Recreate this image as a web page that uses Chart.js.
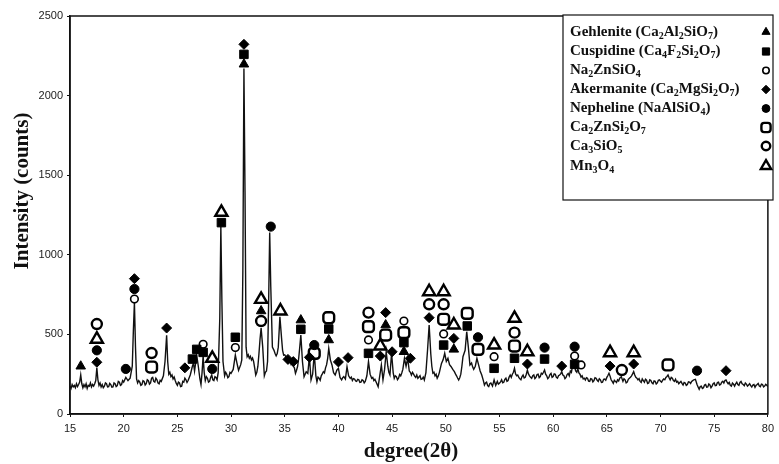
<!DOCTYPE html>
<html>
<head>
<meta charset="utf-8">
<script src="https://cdn.jsdelivr.net/npm/chart.js@4.4.0/dist/chart.umd.min.js"></script>
<style>
  html, body { margin: 0; padding: 0; background: #fff; }
  #wrap { width: 779px; height: 464px; }
</style>
</head>
<body>
<div id="wrap"><canvas id="xrd"></canvas></div>
<script>
// measured pattern: [2theta, counts]
const pattern = [
  [15.0,175],[15.1,160],[15.2,185],[15.3,170],[15.4,180],[15.5,165],[15.6,190],[15.7,172],[15.8,185],[15.9,200],
  [16.0,245],[16.1,190],[16.2,165],[16.3,185],[16.4,170],[16.5,190],[16.6,160],[16.7,180],[16.8,175],[16.9,195],
  [17.0,170],[17.1,185],[17.2,175],[17.3,190],[17.4,210],[17.5,290],[17.6,215],[17.7,180],[17.8,195],[17.9,170],
  [18.0,185],[18.1,165],[18.2,175],[18.3,195],[18.4,190],[18.5,170],[18.6,172],[18.7,192],[18.8,185],[18.9,168],
  [19.0,170],[19.1,195],[19.2,190],[19.3,172],[19.4,178],[19.5,205],[19.6,200],[19.7,180],[19.8,185],[19.9,210],
  [20.0,200],[20.2,230],[20.4,210],[20.6,225],[20.8,300],[20.9,520],[21.0,700],[21.1,420],[21.2,220],[21.3,195],
  [21.4,210],[21.5,200],[21.6,180],[21.7,185],[21.8,210],[21.9,205],[22.0,182],[22.1,190],[22.2,215],[22.3,210],
  [22.4,188],[22.5,195],[22.6,225],[22.7,230],[22.8,205],[22.9,200],[23.0,225],[23.1,215],[23.2,195],[23.3,190],
  [23.4,212],[23.5,205],[23.7,240],[23.85,330],[24.0,495],[24.1,330],[24.2,250],[24.3,262],[24.4,235],[24.5,245],
  [24.6,220],[24.7,232],[24.8,210],[24.9,192],[25.0,180],[25.1,200],[25.2,195],[25.3,172],[25.4,175],[25.5,205],
  [25.6,200],[25.7,225],[25.8,215],[25.9,198],[26.0,210],[26.2,245],[26.4,300],[26.5,320],[26.6,270],[26.8,370],
  [26.95,300],[27.1,220],[27.2,185],[27.3,260],[27.4,365],[27.5,260],[27.6,210],[27.7,235],[27.8,225],[27.9,200],
  [28.0,205],[28.1,230],[28.2,245],[28.3,215],[28.4,210],[28.5,235],[28.6,230],[28.7,215],[28.8,260],[28.95,600],
  [29.05,1180],[29.15,700],[29.25,330],[29.4,240],[29.5,262],[29.6,250],[29.7,228],[29.8,235],[29.9,262],[30.0,255],
  [30.2,280],[30.4,370],[30.55,320],[30.7,275],[30.9,310],[31.0,340],[31.1,900],[31.2,2170],[31.3,1400],
  [31.4,420],[31.5,360],[31.6,372],[31.7,350],[31.8,362],[31.9,340],[32.0,352],[32.1,330],[32.2,290],[32.3,245],
  [32.4,262],[32.5,300],[32.6,380],[32.7,470],[32.8,540],[32.95,420],[33.1,240],[33.2,262],[33.3,270],[33.4,330],
  [33.5,700],[33.6,1140],[33.7,800],[33.85,420],[34.0,400],[34.1,380],[34.2,365],[34.3,380],[34.4,420],[34.55,610],
  [34.7,480],[34.8,400],[34.9,370],[35.0,372],[35.1,360],[35.2,342],[35.3,330],[35.4,350],[35.5,345],[35.6,312],
  [35.7,320],[35.8,300],[35.9,290],[36.0,256],[36.1,275],[36.2,300],[36.3,350],[36.4,420],[36.5,496],[36.65,330],
  [36.8,234],[36.9,250],[37.0,266],[37.15,255],[37.3,360],[37.45,214],[37.6,250],[37.75,381],[37.9,240],
  [38.0,203],[38.1,232],[38.2,225],[38.3,212],[38.4,240],[38.5,252],[38.6,266],[38.7,258],[38.8,290],[38.9,310],
  [39.0,350],[39.1,412],[39.25,340],[39.4,308],[39.55,260],[39.7,245],[39.85,275],[40.0,287],[40.15,230],
  [40.3,214],[40.4,228],[40.5,235],[40.65,220],[40.8,297],[40.95,240],[41.1,224],[41.2,232],[41.3,210],[41.4,222],
  [41.5,220],[41.6,208],[41.7,205],[41.8,218],[41.9,215],[42.0,198],[42.1,200],[42.2,215],[42.3,210],[42.4,196],
  [42.5,205],[42.65,240],[42.8,329],[42.95,250],[43.1,224],[43.2,230],[43.3,210],[43.4,218],[43.5,203],[43.7,172],
  [43.85,240],[44.0,308],[44.15,214],[44.3,280],[44.45,391],[44.6,300],[44.7,262],[44.8,245],[44.95,383],[45.1,260],
  [45.2,224],[45.3,240],[45.4,235],[45.5,215],[45.6,225],[45.7,248],[45.8,240],[45.9,258],[46.0,280],[46.15,350],
  [46.3,300],[46.45,350],[46.6,270],[46.7,262],[46.8,245],[46.9,262],[47.0,250],[47.1,238],[47.2,230],[47.3,245],
  [47.4,224],[47.5,232],[47.6,240],[47.7,218],[47.8,220],[47.9,232],[48.0,214],[48.15,260],[48.3,400],[48.45,559],
  [48.6,380],[48.7,300],[48.8,256],[48.9,262],[49.0,240],[49.1,250],[49.2,224],[49.3,238],[49.4,260],[49.5,290],
  [49.6,318],[49.75,340],[49.9,381],[50.05,330],[50.2,350],[50.35,310],[50.5,297],[50.65,280],[50.8,266],
  [50.9,252],[51.0,240],[51.1,226],[51.2,214],[51.3,228],[51.4,250],[51.5,300],[51.6,360],[51.8,400],[51.95,517],
  [52.1,420],[52.25,308],[52.4,320],[52.5,296],[52.6,280],[52.75,300],[52.9,350],[53.05,310],[53.2,270],
  [53.35,245],[53.5,210],[53.6,182],[53.7,195],[53.8,200],[53.9,178],[54.0,172],[54.1,190],[54.2,195],[54.35,175],
  [54.5,214],[54.65,180],[54.8,205],[54.9,188],[55.0,193],[55.1,202],[55.2,215],[55.3,196],[55.4,200],[55.5,218],
  [55.6,225],[55.7,205],[55.8,210],[55.9,232],[56.0,245],[56.1,230],[56.2,250],[56.3,262],[56.4,287],[56.5,252],
  [56.6,240],[56.7,245],[56.8,230],[56.9,222],[57.0,215],[57.1,235],[57.2,245],[57.3,226],[57.4,230],[57.5,250],
  [57.6,276],[57.7,252],[57.8,240],[57.9,230],[58.0,224],[58.1,240],[58.2,245],[58.3,222],[58.4,230],[58.5,248],
  [58.6,250],[58.7,228],[58.8,235],[58.9,256],[59.0,250],[59.1,262],[59.2,276],[59.3,250],[59.4,240],[59.5,222],
  [59.6,230],[59.7,248],[59.8,255],[59.9,230],[60.0,235],[60.1,252],[60.2,250],[60.3,230],[60.4,225],[60.5,240],
  [60.6,245],[60.7,252],[60.8,266],[60.9,245],[61.0,240],[61.1,222],[61.2,230],[61.3,248],[61.4,255],[61.5,240],
  [61.6,270],[61.7,262],[61.8,300],[61.95,308],[62.1,270],[62.2,262],[62.3,285],[62.4,258],[62.5,250],[62.6,232],
  [62.7,240],[62.8,220],[62.9,225],[63.0,214],[63.1,228],[63.2,225],[63.3,206],[63.4,205],[63.5,222],[63.6,220],
  [63.7,202],[63.8,210],[63.9,228],[64.0,225],[64.1,212],[64.2,205],[64.3,222],[64.4,215],[64.5,198],[64.6,200],
  [64.7,218],[64.8,220],[64.9,212],[65.0,230],[65.1,242],[65.2,256],[65.3,238],[65.4,215],[65.5,205],[65.6,193],
  [65.7,212],[65.8,205],[65.9,198],[66.0,215],[66.1,208],[66.2,225],[66.35,234],[66.5,205],[66.6,222],[66.7,215],
  [66.8,195],[66.9,200],[67.0,218],[67.1,225],[67.2,230],[67.3,240],[67.4,252],[67.5,266],[67.6,245],[67.7,230],
  [67.8,225],[67.9,214],[68.0,222],[68.1,205],[68.2,198],[68.3,220],[68.4,210],[68.5,200],[68.6,218],[68.7,212],
  [68.8,192],[68.9,195],[69.0,215],[69.1,210],[69.2,196],[69.3,190],[69.4,208],[69.5,205],[69.6,188],[69.7,195],
  [69.8,212],[69.9,215],[70.0,205],[70.1,200],[70.2,212],[70.3,220],[70.4,215],[70.5,230],[70.6,236],[70.7,245],
  [70.8,228],[70.9,215],[71.0,230],[71.1,225],[71.2,210],[71.3,205],[71.4,218],[71.5,200],[71.6,205],[71.7,190],
  [71.8,198],[71.9,205],[72.0,192],[72.1,182],[72.2,198],[72.3,195],[72.4,180],[72.5,185],[72.6,202],[72.7,200],
  [72.8,192],[72.9,205],[73.0,210],[73.1,215],[73.25,218],[73.4,185],[73.5,170],[73.6,155],[73.7,172],[73.8,175],
  [73.9,160],[74.0,165],[74.1,182],[74.2,185],[74.3,168],[74.4,170],[74.5,188],[74.6,182],[74.7,165],[74.8,175],
  [74.9,190],[75.0,195],[75.1,178],[75.2,180],[75.3,198],[75.4,200],[75.5,182],[75.6,185],[75.7,200],[75.8,205],
  [75.9,195],[76.0,210],[76.1,214],[76.2,200],[76.3,190],[76.4,198],[76.5,180],[76.6,175],[76.7,195],[76.8,188],
  [76.9,175],[77.0,190],[77.1,200],[77.2,185],[77.3,180],[77.4,198],[77.5,205],[77.6,190],[77.7,185],[77.8,178],
  [77.9,195],[78.0,188],[78.1,175],[78.2,182],[78.3,190],[78.4,178],[78.5,170],[78.6,182],[78.7,185],[78.8,168],
  [78.9,180],[79.0,185],[79.1,192],[79.2,176],[79.3,172],[79.4,188],[79.5,185],[79.6,170],[79.7,175],[79.8,186],
  [79.9,180],[80.0,172]
];

// phase markers: [2theta, height where the symbol sits]
const gehlenite = [[16.0,300],[31.2,2197],[32.8,647],[36.5,590],[39.1,465],[44.4,559],[46.1,391],[50.75,406]];
const cuspidine = [[26.4,345],[26.8,406],[27.4,387],[29.1,1202],[30.4,482],[31.2,2259],[36.5,532],[39.1,534],
  [42.8,381],[46.1,448],[49.8,433],[52.0,553],[54.5,287],[56.4,350],[59.2,345],[62.0,312]];
const na2znsio4 = [[21.0,722],[27.4,438],[30.4,417],[42.8,465],[46.1,584],[49.8,503],[54.5,360],[62.0,364],[62.6,308]];
const akermanite = [[17.5,325],[21.0,850],[24.0,540],[25.7,290],[31.2,2322],[35.3,343],[35.8,329],[37.3,356],
  [40.0,327],[40.9,354],[43.9,364],[44.4,637],[45.0,391],[46.7,350],[48.45,605],[50.75,475],[57.6,314],[60.8,301],
  [65.3,301],[67.5,314],[76.1,272]];
const nepheline = [[17.5,400],[20.2,283],[21.0,785],[28.25,283],[33.7,1177],[37.75,433],[53.0,482],[59.2,417],[62.0,423],[73.4,272]];
const ca2znsi2o7 = [[22.6,295],[37.75,381],[39.1,605],[42.8,549],[44.4,496],[46.1,511],[49.8,595],[52.0,632],[53.0,406],[56.4,427],[70.7,308]];
const ca3sio5 = [[17.5,565],[22.6,383],[32.8,584],[42.8,637],[48.45,689],[49.8,689],[56.4,511],[66.4,276]];
const mn3o4 = [[17.5,470],[28.25,350],[29.1,1267],[32.8,720],[34.6,647],[43.9,427],[48.45,768],[49.8,768],
  [50.75,559],[54.5,433],[56.4,601],[57.6,391],[65.3,385],[67.5,385]];

const xTicks = [15, 20, 25, 30, 35, 40, 45, 50, 55, 60, 65, 70, 75, 80];
const yTicks = [0, 500, 1000, 1500, 2000, 2500];

// legend labels, "_n" = subscript
const phaseNames = [
  "Gehlenite (Ca_2Al_2SiO_7)",
  "Cuspidine (Ca_4F_2Si_2O_7)",
  "Na_2ZnSiO_4",
  "Akermanite (Ca_2MgSi_2O_7)",
  "Nepheline (NaAlSiO_4)",
  "Ca_2ZnSi_2O_7",
  "Ca_3SiO_5",
  "Mn_3O_4"
];

const xTitle = "degree(2θ)";
const yTitle = "Intensity (counts)";
const serif = "'Liberation Serif', 'Times New Roman', serif";

const toXY = arr => arr.map(p => ({ x: p[0], y: p[1] }));

function phase(label, arr, style, filled, radius, bw) {
  return {
    type: "scatter",
    label: label,
    data: toXY(arr),
    pointStyle: style,
    pointRadius: radius,
    pointBorderWidth: bw,
    pointBackgroundColor: filled ? "#000" : "#fff",
    pointBorderColor: "#000",
    showLine: false,
    order: 0,
  };
}

const markerSets = [
  phase(phaseNames[0], gehlenite, "triangle", true, 5.5, 1),
  phase(phaseNames[1], cuspidine, "rect", true, 6, 1),
  phase(phaseNames[2], na2znsio4, "circle", false, 3.8, 1.6),
  phase(phaseNames[3], akermanite, "rectRot", true, 5, 1),
  phase(phaseNames[4], nepheline, "circle", true, 4.6, 1),
  phase(phaseNames[5], ca2znsi2o7, "rectRounded", false, 6.3, 2.4),
  phase(phaseNames[6], ca3sio5, "circle", false, 5, 2.4),
  phase(phaseNames[7], mn3o4, "triangle", false, 7, 2.4),
];

function drawSubText(ctx, str, x, y) {
  const parts = str.split(/(_\d)/);
  let cx = x;
  parts.forEach(p => {
    if (!p) return;
    if (p[0] === "_") {
      ctx.font = "bold 10px " + serif;
      ctx.fillText(p.slice(1), cx, y + 4);
      cx += ctx.measureText(p.slice(1)).width;
    } else {
      ctx.font = "bold 15px " + serif;
      ctx.fillText(p, cx, y);
      cx += ctx.measureText(p).width;
    }
  });
}

const framePlugin = {
  id: "frame",
  beforeDatasetsDraw(chart) {
    const { ctx, chartArea: a } = chart;
    ctx.save();
    ctx.strokeStyle = "#111";
    ctx.lineWidth = 1.5;
    ctx.strokeRect(a.left, a.top, a.right - a.left, a.bottom - a.top);
    // axis titles
    ctx.fillStyle = "#111";
    ctx.font = "bold 21px " + serif;
    ctx.textAlign = "center";
    ctx.textBaseline = "middle";
    ctx.fillText(xTitle, 411, 452);
    ctx.translate(23, 191);
    ctx.rotate(-Math.PI / 2);
    ctx.fillText(yTitle, 0, 0);
    ctx.restore();
  },
};

const phaseLegend = {
  id: "phaseLegend",
  afterDraw(chart) {
    const { ctx } = chart;
    const left = 563, top = 15, w = 210, h = 185;
    const rows = [32, 51.5, 70.5, 89.5, 108.5, 127.5, 146, 166];
    ctx.save();
    ctx.fillStyle = "#fff";
    ctx.fillRect(left, top, w, h);
    ctx.strokeStyle = "#111";
    ctx.lineWidth = 1.2;
    ctx.strokeRect(left, top, w, h);
    ctx.textBaseline = "middle";
    ctx.textAlign = "left";
    markerSets.forEach((ds, i) => {
      ctx.fillStyle = "#111";
      drawSubText(ctx, phaseNames[i], 570, rows[i]);
      ctx.fillStyle = ds.pointBackgroundColor;
      ctx.strokeStyle = "#000";
      ctx.lineWidth = ds.pointBorderWidth;
      Chart.helpers.drawPoint(ctx, { pointStyle: ds.pointStyle, radius: ds.pointRadius * 0.85, borderWidth: ds.pointBorderWidth }, 766, rows[i]);
    });
    ctx.restore();
  },
};

new Chart(document.getElementById("xrd"), {
  type: "line",
  data: {
    datasets: [
      ...markerSets,
      {
        label: "XRD",
        data: toXY(pattern),
        borderColor: "#111",
        borderWidth: 1.4,
        pointRadius: 0,
        tension: 0,
        order: 1,
      },
    ],
  },
  options: {
    responsive: true,
    maintainAspectRatio: false,
    animation: false,
    layout: { padding: { top: 16, right: 6, left: 0, bottom: 0 } },
    plugins: {
      legend: { display: false },
      tooltip: { enabled: false },
    },
    scales: {
      x: {
        type: "linear",
        min: 15,
        max: 80,
        afterBuildTicks: s => { s.ticks = xTicks.map(v => ({ value: v })); },
        afterFit: s => { s.height = 50; },
        ticks: { color: "#222", font: { family: "'Liberation Sans', Arial", size: 11 }, padding: 5, callback: v => String(v) },
        grid: { display: true, drawOnChartArea: false, drawTicks: true, tickLength: 3, color: "#111" },
        border: { display: true, color: "#111", width: 1.5 },
      },
      y: {
        min: 0,
        max: 2500,
        afterBuildTicks: s => { s.ticks = yTicks.map(v => ({ value: v })); },
        afterFit: s => { s.width = 70; },
        ticks: { color: "#222", font: { family: "'Liberation Sans', Arial", size: 11 }, padding: 4, callback: v => String(v) },
        grid: { display: true, drawOnChartArea: false, drawTicks: true, tickLength: 3, color: "#111" },
        border: { display: true, color: "#111", width: 1.5 },
      },
    },
  },
  plugins: [framePlugin, phaseLegend],
});
</script>
</body>
</html>
